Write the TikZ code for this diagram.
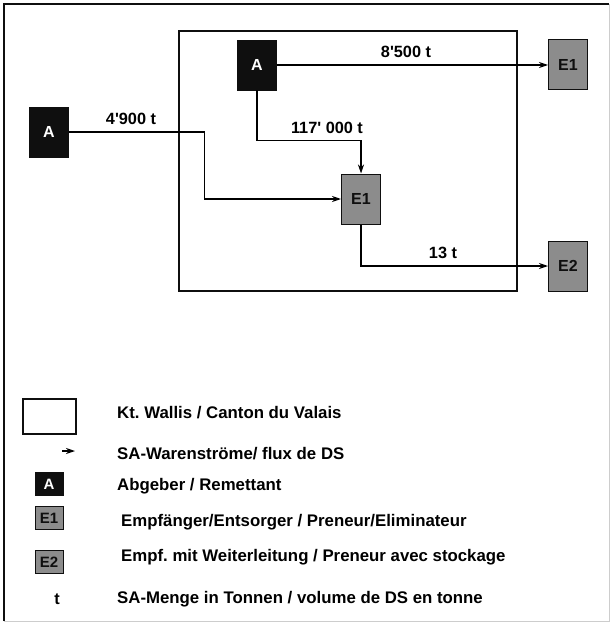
\documentclass[tikz,border=0pt]{standalone}
\usepackage{fontspec}
\setmainfont{Liberation Sans}
\usepackage{xcolor}
\usepackage{tikz}
\usetikzlibrary{arrows.meta, positioning, calc}
\definecolor{SAblack}{RGB}{15, 15, 15}
\definecolor{SAgray}{RGB}{140, 140, 140}
\definecolor{SAframe}{RGB}{205, 205, 205}
\frenchspacing

\tikzset{
  srcbox/.style={fill=SAblack, draw=SAblack, minimum width=39pt, minimum height=50pt,
                 inner sep=0pt, text=white, font=\fontsize{16}{19}\selectfont\bfseries},
  recbox/.style={fill=SAgray, draw=SAblack, line width=1pt, minimum width=39pt, minimum height=50pt,
                 inner sep=0pt, text=SAblack, font=\fontsize{16}{19}\selectfont\bfseries},
  iconbox/.style={minimum width=28pt, minimum height=23pt, font=\fontsize{15}{17}\selectfont\bfseries},
  flow/.style={line width=1.2pt, -{Stealth[length=9pt, width=6pt]}},
  qty/.style={font=\fontsize{16.3}{19}\selectfont\bfseries, inner sep=1pt},
  legtext/.style={anchor=west, font=\fontsize{16.8}{20}\selectfont\bfseries, inner sep=0pt}
}

\begin{document}
\begin{tikzpicture}[x=1pt, y=-1pt]
    \useasboundingbox (0,0) rectangle (611,623);
    % frame
    \draw[SAframe, line width=1pt] (609,4) -- (609,621) -- (4,621);
    \draw[SAblack, line width=1.6pt] (4,621) -- (4,4) -- (609,4);

    % canton
    \node[draw=SAblack, line width=1.3pt, minimum width=338pt, minimum height=260pt] (canton) at (348,161) {};

    % donors and receivers
    \node[srcbox] (aTop) at (257,65) {A};
    \node[srcbox] (aLeft) at (49,132) {A};
    \node[recbox] (eOut) at (568,65) {E1};
    \node[recbox] (eMid) at (361,199) {E1};
    \node[recbox] (eTwo) at (568,266) {E2};

    % flows
    \draw[flow] (aTop) -- (eOut);
    \draw[flow] (aTop.south) -- ++(0,50) -| (eMid.north);
    \draw[flow] (aLeft.east) -- ++(136,0) |- (eMid.west);
    \draw[flow] (eMid.south) |- (eTwo.west);

    \node[qty] (q1) at (406,52) {8\textquotesingle500 t};
    \node[qty] (q2) at (327,128) {117\textquotesingle\ 000 t};
    \node[qty] (q3) at (131,119) {4\textquotesingle900 t};
    \node[qty] (q4) at (443,253) {13 t};

    % legend
    \node[draw=SAblack, line width=1.2pt, minimum width=53pt, minimum height=35pt] (lgCanton) at (49.5,416.5) {};
    \coordinate (lgTail) at (62,451);
    \coordinate (lgTip) at (75,451);
    \draw[flow] (lgTail) -- (lgTip);
    \node[srcbox, iconbox] (lgA) at (49,484) {A};
    \node[recbox, iconbox] (lgE1) at (49,518) {E1};
    \node[recbox, iconbox] (lgE2) at (49,562) {E2};
    \node[qty] (lgT) at (57,599) {t};

    \node[legtext] (txCanton) at (117,413) {Kt. Wallis / Canton du Valais};
    \node[legtext] (txFlow) at (117,454) {SA-Warenströme/ flux de DS};
    \node[legtext] (txA) at (117,486) {Abgeber / Remettant};
    \node[legtext] (txE1) at (121,522) {Empfänger/Entsorger / Preneur/Eliminateur};
    \node[legtext] (txE2) at (121,557) {Empf. mit Weiterleitung / Preneur avec stockage};
    \node[legtext] (txT) at (117,599) {SA-Menge in Tonnen / volume de DS en tonne};
  \end{tikzpicture}
\end{document}
